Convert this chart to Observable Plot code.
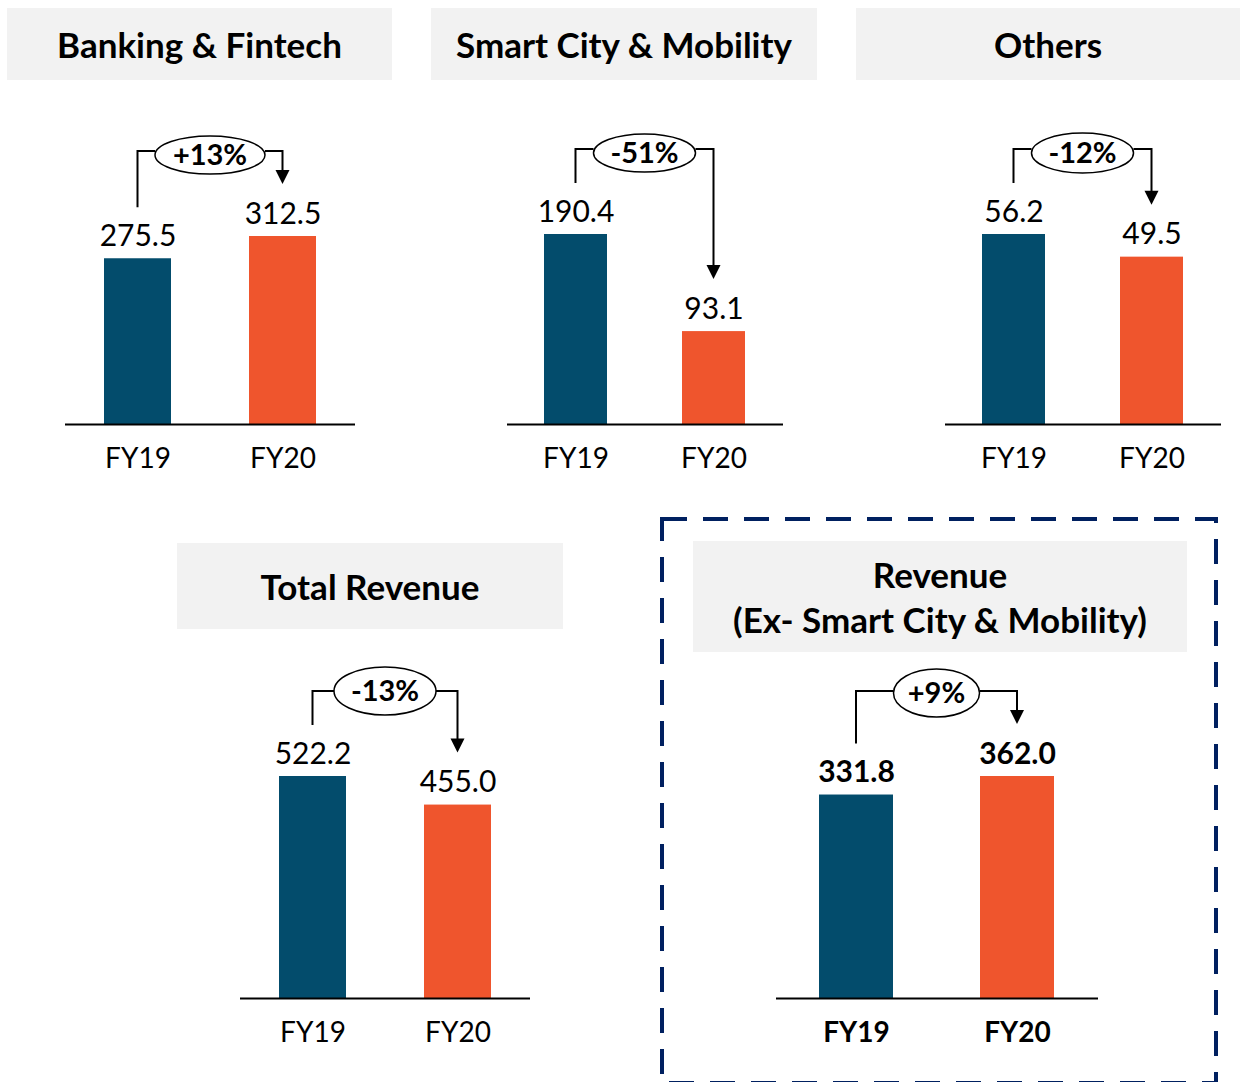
<!DOCTYPE html>
<html>
<head>
<meta charset="utf-8">
<script src="https://cdn.jsdelivr.net/npm/d3@7"></script>
<script src="https://cdn.jsdelivr.net/npm/@observablehq/plot@0.6"></script>
<style>
  html, body { margin: 0; padding: 0; background: #fff; }
  #page { position: relative; width: 1240px; height: 1082px; overflow: hidden; font-family: Lato, "Open Sans", sans-serif; }
  .hdr { position: absolute; background: #f2f2f2; display: flex; flex-direction: column; align-items: center; justify-content: center; font-weight: 700; font-size: 35px; color: #000; line-height: 45px; text-align: center; }
  .panel { position: absolute; }
</style>
</head>
<body>
<div id="page"></div>
<script>
// ---- data ----
const years = ["FY19", "FY20"];
const segments = ["Banking & Fintech", "Smart City & Mobility", "Others", "Total Revenue", "Revenue|(Ex- Smart City & Mobility)"];
const fy19 = [275.5, 190.4, 56.2, 522.2, 331.8];
const fy20 = [312.5, 93.1, 49.5, 455.0, 362.0];
const changes = ["+13%", "-51%", "-12%", "-13%", "+9%"];

// ---- layout / style (not data) ----
const navy = "#034c6c", orange = "#ef552d";
const layout = [
  {hx: 7,   hy: 8,   hw: 385, hh: 72,  ax0: 65,  ax1: 355,  base: 424, maxH: 188, rx: 55, ry: 19, dcy: 4, bold: false},
  {hx: 431, hy: 8,   hw: 386, hh: 72,  ax0: 507, ax1: 783,  base: 424, maxH: 190, rx: 51, ry: 19, dcy: 4, bold: false},
  {hx: 856, hy: 8,   hw: 384, hh: 72,  ax0: 945, ax1: 1221, base: 424, maxH: 190, rx: 51, ry: 20, dcy: 4, bold: false},
  {hx: 177, hy: 543, hw: 386, hh: 86,  ax0: 240, ax1: 530,  base: 998, maxH: 222, rx: 51, ry: 24, dcy: 0, bold: false},
  {hx: 693, hy: 541, hw: 494, hh: 111, ax0: 776, ax1: 1098, base: 998, maxH: 222, rx: 43, ry: 24, dcy: 2, bold: true}
];
const MT = 130, MB = 60;

const page = document.getElementById("page");

// dashed highlight box
const deco = d3.select(page).append("svg")
  .attr("width", 1240).attr("height", 1082)
  .style("position", "absolute").style("left", 0).style("top", 0);
deco.append("rect")
  .attr("x", 662).attr("y", 519).attr("width", 554).attr("height", 564)
  .attr("fill", "none").attr("stroke", "#002060").attr("stroke-width", 4)
  .attr("stroke-dasharray", "25 16");

function bracket(i, L) {
  return (index, scales) => {
    const x = scales.x, y = scales.y;
    const bw = typeof x.bandwidth === "function" ? x.bandwidth() : 0;
    const x0 = x(years[0]) + bw / 2, x1 = x(years[1]) + bw / 2;
    const t0 = y(fy19[i]), t1 = y(fy20[i]);
    const yl = Math.min(t0, t1) - 85;
    const cx = (x0 + x1) / 2, cy = yl + L.dcy;
    const tip = t1 - 52;
    const g = d3.create("svg:g");
    g.append("path")
      .attr("d", `M${x0},${t0 - 51}V${yl}H${cx - L.rx}M${cx + L.rx},${yl}H${x1}V${tip - 12}`)
      .attr("fill", "none").attr("stroke", "#000").attr("stroke-width", 2);
    g.append("path")
      .attr("d", `M${x1 - 7},${tip - 14}L${x1 + 7},${tip - 14}L${x1},${tip}Z`)
      .attr("fill", "#000");
    g.append("ellipse")
      .attr("cx", cx).attr("cy", cy).attr("rx", L.rx).attr("ry", L.ry)
      .attr("fill", "#fff").attr("stroke", "#000").attr("stroke-width", 1.5);
    g.append("text")
      .attr("x", cx).attr("y", cy).attr("dy", "0.36em")
      .attr("text-anchor", "middle")
      .attr("font-weight", 700).attr("font-size", 29).attr("fill", "#000")
      .text(changes[i]);
    return g.node();
  };
}

segments.forEach((seg, i) => {
  const L = layout[i];
  // header
  const h = document.createElement("div");
  h.className = "hdr";
  Object.assign(h.style, {left: L.hx + "px", top: L.hy + "px", width: L.hw + "px", height: L.hh + "px"});
  seg.split("|").forEach(line => {
    const s = document.createElement("div");
    s.textContent = line;
    h.appendChild(s);
  });
  page.appendChild(h);

  const data = years.map((yr, j) => ({year: yr, value: j === 0 ? fy19[i] : fy20[i]}));
  const maxV = Math.max(fy19[i], fy20[i]);
  const width = L.ax1 - L.ax0;
  const height = MT + L.maxH + MB;

  const chart = Plot.plot({
    width, height,
    marginLeft: 0, marginRight: 0, marginTop: MT, marginBottom: MB,
    x: {domain: years, paddingInner: 0.54, paddingOuter: 0.27, tickSize: 0, tickPadding: 24, label: null},
    y: {domain: [0, maxV], axis: null},
    color: {domain: years, range: [navy, orange]},
    style: {fontFamily: "Lato, sans-serif", fontSize: "28px", fontWeight: L.bold ? "700" : "400", overflow: "visible", background: "transparent", color: "#000"},
    marks: [
      Plot.barY(data, {x: "year", y: "value", fill: "year"}),
      Plot.ruleY([0], {stroke: "#000", strokeWidth: 2}),
      Plot.text(data, {x: "year", y: "value", text: d => d3.format(".1f")(d.value), lineAnchor: "bottom", dy: -13, fontSize: 30, fill: "#000"}),
      bracket(i, L)
    ]
  });
  const wrap = document.createElement("div");
  wrap.className = "panel";
  Object.assign(wrap.style, {left: L.ax0 + "px", top: (L.base - L.maxH - MT) + "px"});
  wrap.appendChild(chart);
  page.appendChild(wrap);
});
</script>
</body>
</html>
